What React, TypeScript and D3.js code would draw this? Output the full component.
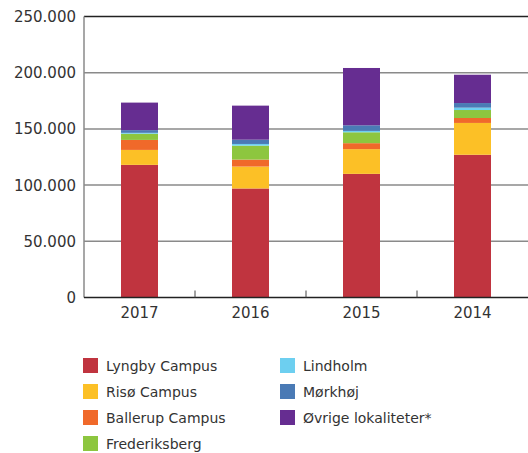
import React from "react";
import * as d3 from "d3";

const years = ["2017", "2016", "2015", "2014"];
const seriesNames = ["Lyngby Campus", "Risø Campus", "Ballerup Campus", "Frederiksberg", "Lindholm", "Mørkhøj", "Øvrige lokaliteter*"];
const seriesColors = ["#C0343F", "#FCC026", "#F0692A", "#8DC63F", "#6DCFF0", "#4A7AB5", "#662D91"];
const lyngby = [118000, 97000, 110000, 127000];
const riso = [13300, 19500, 22000, 28300];
const ballerup = [8900, 6200, 5300, 4400];
const frederiksberg = [5500, 12400, 9700, 7100];
const lindholm = [800, 1500, 1200, 2100];
const morkhoj = [2400, 3800, 5000, 4100];
const ovrige = [24500, 30300, 51000, 25200];
const yTicks = [0, 50000, 100000, 150000, 200000, 250000];

const W = 528, H = 453;
const left = 84, right = 528, top = 16.5, bottom = 297.5;

export default function App() {
  const seriesValues = [lyngby, riso, ballerup, frederiksberg, lindholm, morkhoj, ovrige];
  const rows = years.map((y, i) => {
    const r: any = { year: y };
    seriesNames.forEach((s, j) => (r[s] = seriesValues[j][i]));
    return r;
  });
  const stack = d3.stack<any>().keys(seriesNames)(rows);
  const x = d3.scaleBand().domain(years).range([left, right]).padding(0);
  const y = d3.scaleLinear().domain([0, 250000]).range([bottom, top]);
  const bw = x.bandwidth() / 3;
  const fmt = (v: number) => (v === 0 ? "0" : d3.format(",")(v).replace(/,/g, "."));
  const font = "'DejaVu Sans', sans-serif";

  return (
    <svg width={W} height={H} style={{ position: "absolute", left: 0, top: 0 }} fontFamily={font}>
      {yTicks.filter((t) => t > 0 && t < 250000).map((t) => (
        <line key={t} x1={left} x2={right} y1={y(t)} y2={y(t)} stroke="#8a8a8a" strokeWidth={1.5} />
      ))}
      <line x1={left} x2={right} y1={y(250000)} y2={y(250000)} stroke="#222" strokeWidth={1.5} />
      <line x1={left} x2={left} y1={y(250000)} y2={bottom} stroke="#8a8a8a" strokeWidth={1.5} />
      {stack.map((s, j) => (
        <g key={j} fill={seriesColors[j]}>
          {s.map((d, i) => (
            <rect key={i} x={(x(years[i]) as number) + bw} width={bw} y={y(d[1])} height={y(d[0]) - y(d[1])} />
          ))}
        </g>
      ))}
      <line x1={left} x2={right} y1={bottom} y2={bottom} stroke="#222" strokeWidth={1.5} />
      {years.slice(1).map((yr) => (
        <line key={yr} x1={x(yr) as number} x2={x(yr) as number} y1={bottom} y2={bottom - 7} stroke="#444" strokeWidth={1} />
      ))}
      {yTicks.map((t) => (
        <text key={t} x={left - 8} y={y(t)} dy="0.36em" textAnchor="end" fontSize={15} fill="#333">
          {fmt(t)}
        </text>
      ))}
      {years.map((yr) => (
        <text key={yr} x={(x(yr) as number) + x.bandwidth() / 2} y={bottom + 20} textAnchor="middle" fontSize={15} fill="#333">
          {yr}
        </text>
      ))}
      {seriesNames.map((s, j) => {
        const col = j < 4 ? 0 : 1;
        const row = j < 4 ? j : j - 4;
        const sx = col === 0 ? 83 : 280;
        const sy = 358 + row * 26;
        return (
          <g key={s}>
            <rect x={sx} y={sy} width={15} height={15} fill={seriesColors[j]} />
            <text x={sx + 23} y={sy + 7.5} dy="0.36em" fontSize={14} fill="#333">
              {s}
            </text>
          </g>
        );
      })}
    </svg>
  );
}
